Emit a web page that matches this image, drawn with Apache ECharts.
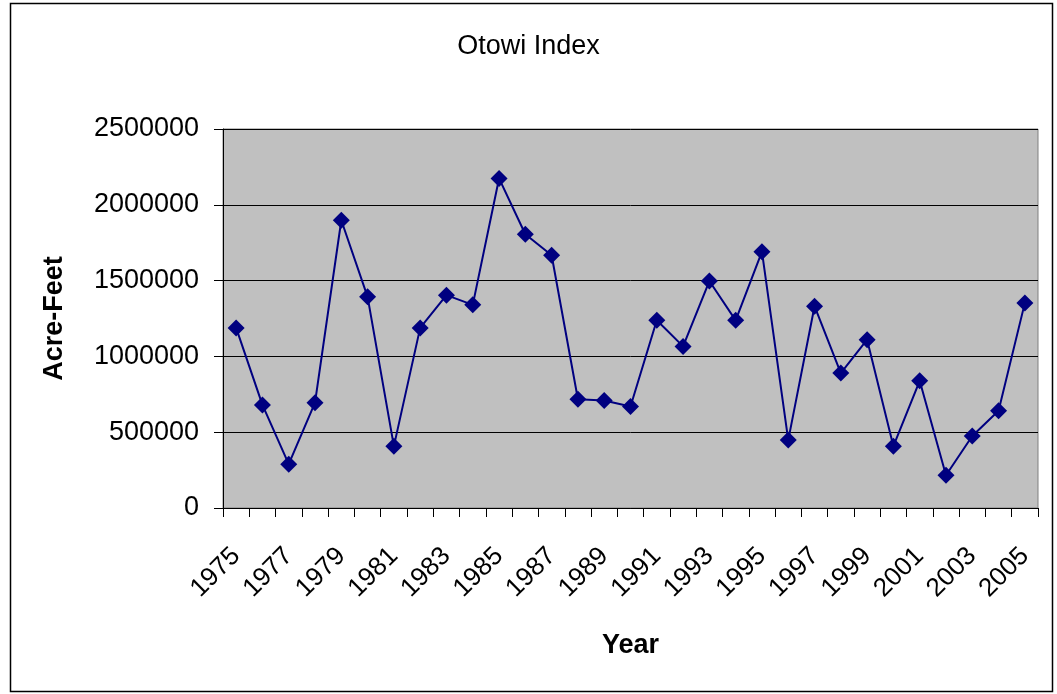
<!DOCTYPE html>
<html>
<head>
<meta charset="utf-8">
<script src="https://cdn.jsdelivr.net/npm/echarts@6/dist/echarts.min.js"></script>
<style>html,body{margin:0;padding:0;background:#fff}#c{width:1057px;height:694px}</style>
</head>
<body>
<div id="c"></div>
<script>
const years = ['1975','1976','1977','1978','1979','1980','1981','1982','1983','1984','1985','1986','1987','1988','1989','1990','1991','1992','1993','1994','1995','1996','1997','1998','1999','2000','2001','2002','2003','2004','2005'];
const acreFeet = [1188000,680000,289000,695000,1898000,1393000,408000,1188000,1404000,1340000,2174000,1806000,1667000,717000,709000,669000,1238000,1066000,1497000,1238000,1691000,448000,1331000,890000,1110000,408000,839000,216000,475000,642000,1353000];
const yTicks = [0,500000,1000000,1500000,2000000,2500000];

const chart = echarts.init(document.getElementById('c'));
const font = '"Liberation Sans", Arial, sans-serif';
chart.setOption({
  animation: false,
  backgroundColor: '#ffffff',
  title: {
    text: 'Otowi Index', left: 'center', top: 28,
    textStyle: { fontFamily: font, fontSize: 27, fontWeight: 'normal', color: '#000' }
  },
  graphic: [{
    type: 'rect', silent: true, z: -1,
    shape: { x: 10.5, y: 3.5, width: 1042, height: 688 },
    style: { fill: 'none', stroke: '#000', lineWidth: 1.5 }
  }],
  grid: {
    left: 223, right: 19, top: 129, bottom: 186,
    show: true, backgroundColor: '#c0c0c0', borderColor: '#808080', borderWidth: 1
  },
  xAxis: {
    type: 'category', data: years, boundaryGap: true,
    name: 'Year', nameLocation: 'middle', nameGap: 124,
    nameTextStyle: { fontFamily: font, fontSize: 27, fontWeight: 'bold', color: '#000' },
    axisLine: { lineStyle: { color: '#000', width: 1 } },
    axisTick: { show: true, length: 9, interval: 0, lineStyle: { color: '#000' } },
    axisLabel: { interval: 1, rotate: 45, margin: 44, fontFamily: font, fontSize: 26, color: '#000' }
  },
  yAxis: {
    type: 'value', min: 0, max: 2500000, interval: 500000,
    name: 'Acre-Feet', nameLocation: 'middle', nameGap: 155, nameRotate: 90,
    nameTextStyle: { fontFamily: font, fontSize: 27, fontWeight: 'bold', color: '#000' },
    axisLine: { show: true, lineStyle: { color: '#000', width: 1 } },
    axisTick: { show: true, length: 9, lineStyle: { color: '#000' } },
    axisLabel: { margin: 24, fontFamily: font, fontSize: 27, color: '#000',
      formatter: v => yTicks.indexOf(v) >= 0 ? String(v) : '' },
    splitLine: { show: true, lineStyle: { color: '#000', width: 1 } }
  },
  series: [{
    type: 'line', data: acreFeet,
    symbol: 'diamond', symbolSize: 17,
    lineStyle: { color: '#000080', width: 2 },
    itemStyle: { color: '#000080' }
  }]
});
</script>
</body>
</html>
